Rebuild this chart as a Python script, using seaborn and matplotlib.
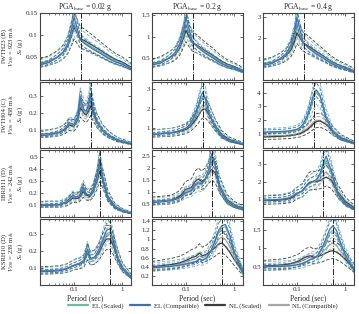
import numpy as np
import pandas as pd
import matplotlib
matplotlib.use("Agg")
import matplotlib.pyplot as plt
import seaborn as sns
from matplotlib.lines import Line2D
from matplotlib.ticker import FixedLocator, NullFormatter, LogLocator

sns.set_style("ticks")
plt.rcParams['font.family'] = ['Liberation Serif', 'DejaVu Serif']
plt.rcParams['mathtext.fontset'] = 'stix'

# ---------------- data ----------------
col_titles = [r"PGA$_{\rm base}$ = 0.02 g", r"PGA$_{\rm base}$ = 0.2 g", r"PGA$_{\rm base}$ = 0.4 g"]
row_labels = ["IWTH23 (B)\n$V_{S30}$ = 923 m/s\n$S_a$ (g)",
              "IWTH04 (C)\n$V_{S30}$ = 458 m/s\n$S_a$ (g)",
              "IBRH11 (D)\n$V_{S30}$ = 242 m/s\n$S_a$ (g)",
              "KSRH10 (D)\n$V_{S30}$ = 239 m/s\n$S_a$ (g)"]
site_period = [0.14, 0.23, 0.35, 0.55]
series_names = ["NL (Compatible)", "NL (Scaled)", "EL (Scaled)", "EL (Compatible)"]
legend_names = ["EL (Scaled)", "EL (Compatible)", "NL (Scaled)", "NL (Compatible)"]
series_colors = {"EL (Scaled)": "#66bba3", "EL (Compatible)": "#3d6fb3",
                 "NL (Scaled)": "#3c3c3c", "NL (Compatible)": "#a6a6a6"}
# log-standard deviation of each set (dashed = median x/÷ exp(sigma))
dispersion = {"EL (Scaled)": 0.24, "EL (Compatible)": 0.12,
              "NL (Scaled)": 0.26, "NL (Compatible)": 0.13}

t_row1 = [0.02, 0.03, 0.045, 0.06, 0.075, 0.09, 0.1, 0.115, 0.135, 0.17, 0.25, 0.35, 0.5, 0.7, 1.0, 1.5]
t_row2 = [0.02, 0.03, 0.05, 0.065, 0.08, 0.1, 0.12, 0.135, 0.16, 0.18, 0.2, 0.22, 0.25, 0.3, 0.4, 0.55, 0.8, 1.5]
t_row3 = [0.02, 0.03, 0.05, 0.07, 0.085, 0.095, 0.11, 0.13, 0.155, 0.18, 0.21, 0.25, 0.3, 0.34, 0.4, 0.5, 0.7, 1.0, 1.5]
t_row4 = [0.02, 0.03, 0.05, 0.07, 0.09, 0.11, 0.13, 0.16, 0.19, 0.22, 0.27, 0.33, 0.4, 0.47, 0.55, 0.65, 0.8, 1.0, 1.5]

# row 1
r1c1_els = [0.035, 0.040, 0.050, 0.060, 0.078, 0.105, 0.125, 0.108, 0.090, 0.083, 0.072, 0.063, 0.052, 0.043, 0.036, 0.026]
r1c1_elc = [0.033, 0.038, 0.050, 0.062, 0.082, 0.115, 0.140, 0.118, 0.090, 0.080, 0.068, 0.059, 0.048, 0.040, 0.034, 0.024]
r1c1_nls = [0.036, 0.041, 0.050, 0.060, 0.076, 0.100, 0.118, 0.106, 0.092, 0.087, 0.076, 0.066, 0.055, 0.046, 0.039, 0.028]
r1c1_nlc = [0.034, 0.039, 0.050, 0.061, 0.080, 0.108, 0.128, 0.110, 0.090, 0.082, 0.070, 0.061, 0.050, 0.041, 0.035, 0.025]
r1c2_els = [0.36, 0.40, 0.50, 0.60, 0.78, 1.05, 1.30, 1.08, 0.88, 0.78, 0.64, 0.54, 0.42, 0.34, 0.28, 0.20]
r1c2_elc = [0.34, 0.38, 0.50, 0.63, 0.84, 1.15, 1.45, 1.18, 0.90, 0.76, 0.61, 0.51, 0.39, 0.31, 0.26, 0.18]
r1c2_nls = [0.37, 0.41, 0.50, 0.58, 0.74, 0.98, 1.15, 1.00, 0.86, 0.80, 0.67, 0.57, 0.45, 0.36, 0.30, 0.21]
r1c2_nlc = [0.35, 0.39, 0.50, 0.61, 0.78, 1.05, 1.25, 1.06, 0.87, 0.78, 0.63, 0.53, 0.41, 0.32, 0.27, 0.19]
r1c3_els = [0.72, 0.80, 1.00, 1.20, 1.55, 2.10, 2.60, 2.15, 1.75, 1.55, 1.28, 1.08, 0.84, 0.67, 0.55, 0.40]
r1c3_elc = [0.68, 0.76, 1.00, 1.25, 1.65, 2.30, 3.00, 2.40, 1.80, 1.52, 1.22, 1.02, 0.78, 0.62, 0.52, 0.37]
r1c3_nls = [0.75, 0.82, 0.98, 1.15, 1.42, 1.85, 2.25, 2.00, 1.75, 1.62, 1.35, 1.13, 0.88, 0.71, 0.58, 0.42]
r1c3_nlc = [0.70, 0.78, 0.98, 1.18, 1.50, 2.00, 2.45, 2.10, 1.75, 1.58, 1.30, 1.08, 0.84, 0.66, 0.55, 0.39]
# row 2
r2c1_els = [0.075, 0.078, 0.090, 0.110, 0.140, 0.130, 0.170, 0.270, 0.220, 0.210, 0.240, 0.290, 0.220, 0.150, 0.100, 0.070, 0.045, 0.025]
r2c1_elc = [0.070, 0.074, 0.088, 0.110, 0.145, 0.135, 0.180, 0.290, 0.220, 0.210, 0.250, 0.310, 0.220, 0.145, 0.095, 0.065, 0.042, 0.023]
r2c1_nls = [0.078, 0.080, 0.090, 0.105, 0.130, 0.125, 0.160, 0.230, 0.200, 0.190, 0.210, 0.240, 0.200, 0.150, 0.100, 0.070, 0.046, 0.026]
r2c1_nlc = [0.072, 0.076, 0.088, 0.108, 0.135, 0.130, 0.165, 0.250, 0.210, 0.200, 0.220, 0.260, 0.210, 0.148, 0.097, 0.067, 0.044, 0.024]
r2c2_els = [0.72, 0.75, 0.80, 0.85, 0.92, 1.00, 1.15, 1.35, 1.70, 2.05, 2.40, 2.65, 2.50, 1.80, 1.10, 0.62, 0.38, 0.20]
r2c2_elc = [0.68, 0.72, 0.78, 0.84, 0.92, 1.02, 1.20, 1.42, 1.80, 2.20, 2.60, 2.85, 2.55, 1.75, 1.05, 0.58, 0.35, 0.18]
r2c2_nls = [0.72, 0.74, 0.78, 0.82, 0.88, 0.95, 1.08, 1.22, 1.45, 1.65, 1.85, 1.98, 2.00, 1.70, 1.15, 0.68, 0.42, 0.22]
r2c2_nlc = [0.70, 0.73, 0.78, 0.83, 0.90, 0.98, 1.12, 1.30, 1.55, 1.80, 2.05, 2.20, 2.15, 1.72, 1.10, 0.64, 0.40, 0.20]
r2c3_els = [1.10, 1.12, 1.15, 1.18, 1.22, 1.30, 1.45, 1.65, 2.10, 2.60, 3.10, 3.60, 4.00, 3.70, 2.20, 1.20, 0.70, 0.35]
r2c3_elc = [1.15, 1.17, 1.20, 1.23, 1.28, 1.35, 1.52, 1.75, 2.25, 2.80, 3.35, 3.85, 4.20, 3.80, 2.15, 1.15, 0.66, 0.33]
r2c3_nls = [0.80, 0.82, 0.85, 0.88, 0.92, 0.98, 1.05, 1.15, 1.30, 1.45, 1.60, 1.75, 1.90, 1.95, 1.70, 1.20, 0.75, 0.38]
r2c3_nlc = [0.85, 0.87, 0.90, 0.93, 0.97, 1.03, 1.12, 1.22, 1.40, 1.55, 1.72, 1.88, 2.00, 2.00, 1.72, 1.18, 0.72, 0.36]
# row 3
r3c1_els = [0.095, 0.097, 0.100, 0.120, 0.150, 0.170, 0.160, 0.170, 0.240, 0.190, 0.180, 0.220, 0.320, 0.440, 0.300, 0.160, 0.080, 0.050, 0.030]
r3c1_elc = [0.090, 0.093, 0.100, 0.125, 0.160, 0.180, 0.165, 0.175, 0.250, 0.190, 0.180, 0.230, 0.350, 0.480, 0.300, 0.150, 0.075, 0.045, 0.027]
r3c1_nls = [0.098, 0.100, 0.100, 0.115, 0.140, 0.155, 0.150, 0.160, 0.210, 0.180, 0.170, 0.210, 0.300, 0.380, 0.300, 0.170, 0.085, 0.050, 0.030]
r3c1_nlc = [0.093, 0.095, 0.100, 0.120, 0.145, 0.165, 0.155, 0.165, 0.230, 0.185, 0.175, 0.220, 0.320, 0.420, 0.300, 0.160, 0.080, 0.048, 0.028]
r3c2_els = [0.60, 0.62, 0.66, 0.75, 0.85, 0.95, 1.00, 1.05, 1.25, 1.35, 1.30, 1.50, 1.90, 2.45, 2.10, 1.20, 0.65, 0.45, 0.32]
r3c2_elc = [0.58, 0.60, 0.65, 0.75, 0.86, 0.97, 1.02, 1.08, 1.30, 1.40, 1.35, 1.55, 2.00, 2.60, 2.15, 1.15, 0.62, 0.42, 0.30]
r3c2_nls = [0.62, 0.64, 0.68, 0.80, 0.95, 1.10, 1.15, 1.20, 1.45, 1.55, 1.45, 1.55, 1.80, 1.95, 1.80, 1.25, 0.70, 0.48, 0.34]
r3c2_nlc = [0.60, 0.62, 0.67, 0.78, 0.90, 1.02, 1.08, 1.12, 1.35, 1.45, 1.40, 1.55, 1.85, 2.15, 1.95, 1.20, 0.68, 0.46, 0.33]
r3c3_els = [0.95, 0.97, 1.00, 1.08, 1.20, 1.30, 1.35, 1.45, 1.70, 1.85, 1.95, 2.05, 2.35, 2.80, 3.20, 2.60, 1.30, 0.75, 0.45]
r3c3_elc = [0.92, 0.95, 0.98, 1.06, 1.20, 1.32, 1.38, 1.48, 1.75, 1.90, 2.00, 2.10, 2.45, 2.95, 3.45, 2.70, 1.25, 0.70, 0.42]
r3c3_nls = [0.90, 0.92, 0.95, 1.02, 1.12, 1.25, 1.35, 1.45, 1.75, 1.95, 2.00, 1.98, 2.05, 2.15, 2.25, 2.10, 1.40, 0.85, 0.50]
r3c3_nlc = [0.92, 0.94, 0.97, 1.04, 1.15, 1.28, 1.36, 1.45, 1.72, 1.90, 1.98, 2.00, 2.15, 2.35, 2.55, 2.25, 1.35, 0.80, 0.48]
# row 4
r4c1_els = [0.080, 0.082, 0.085, 0.095, 0.110, 0.120, 0.125, 0.140, 0.200, 0.150, 0.160, 0.200, 0.260, 0.300, 0.310, 0.250, 0.160, 0.100, 0.050]
r4c1_elc = [0.078, 0.080, 0.083, 0.095, 0.110, 0.120, 0.128, 0.145, 0.210, 0.155, 0.165, 0.210, 0.270, 0.320, 0.330, 0.260, 0.150, 0.095, 0.045]
r4c1_nls = [0.082, 0.084, 0.087, 0.095, 0.108, 0.118, 0.122, 0.135, 0.190, 0.150, 0.160, 0.190, 0.240, 0.270, 0.270, 0.230, 0.160, 0.100, 0.050]
r4c1_nlc = [0.080, 0.082, 0.085, 0.095, 0.110, 0.120, 0.125, 0.140, 0.200, 0.150, 0.162, 0.200, 0.250, 0.290, 0.300, 0.240, 0.155, 0.098, 0.048]
r4c2_els = [0.38, 0.40, 0.42, 0.44, 0.46, 0.48, 0.50, 0.52, 0.58, 0.55, 0.60, 0.75, 0.95, 1.15, 1.25, 1.28, 1.05, 0.70, 0.28]
r4c2_elc = [0.37, 0.39, 0.41, 0.43, 0.45, 0.47, 0.49, 0.51, 0.57, 0.54, 0.60, 0.76, 0.98, 1.20, 1.30, 1.33, 1.10, 0.72, 0.27]
r4c2_nls = [0.40, 0.42, 0.45, 0.48, 0.52, 0.56, 0.60, 0.63, 0.70, 0.64, 0.68, 0.75, 0.82, 0.90, 0.92, 0.85, 0.72, 0.55, 0.28]
r4c2_nlc = [0.39, 0.41, 0.44, 0.46, 0.49, 0.52, 0.55, 0.58, 0.64, 0.60, 0.64, 0.75, 0.88, 1.00, 1.05, 1.00, 0.85, 0.62, 0.28]
r4c3_els = [0.50, 0.51, 0.52, 0.53, 0.55, 0.57, 0.60, 0.65, 0.70, 0.72, 0.80, 0.98, 1.20, 1.42, 1.50, 1.40, 1.10, 0.80, 0.42]
r4c3_elc = [0.49, 0.50, 0.51, 0.52, 0.54, 0.56, 0.59, 0.64, 0.70, 0.72, 0.82, 1.02, 1.28, 1.52, 1.62, 1.50, 1.15, 0.82, 0.40]
r4c3_nls = [0.52, 0.53, 0.55, 0.58, 0.62, 0.66, 0.72, 0.78, 0.80, 0.76, 0.78, 0.82, 0.88, 0.92, 0.94, 0.90, 0.82, 0.70, 0.45]
r4c3_nlc = [0.51, 0.52, 0.54, 0.56, 0.59, 0.62, 0.67, 0.72, 0.76, 0.74, 0.78, 0.88, 1.00, 1.10, 1.15, 1.08, 0.92, 0.75, 0.43]

y_limits = [[(0, 0.15), (0, 1.55), (0, 3.2)],
            [(0, 0.38), (0, 3.4), (0, 4.8)],
            [(0, 0.56), (0, 2.75), (0, 3.8)],
            [(0, 0.39), (0, 1.46), (0, 1.82)]]
y_ticks = [[[0.05, 0.1, 0.15], [0.5, 1, 1.5], [1, 2, 3]],
           [[0.1, 0.2, 0.3], [1, 2, 3], [1, 2, 3, 4]],
           [[0.1, 0.2, 0.3, 0.4, 0.5], [0.5, 1, 1.5, 2, 2.5], [1, 2, 3]],
           [[0.1, 0.2, 0.3], [0.2, 0.4, 0.6, 0.8, 1, 1.2, 1.4], [0.5, 1, 1.5]]]

periods = [t_row1, t_row2, t_row3, t_row4]
panels = {
    (0, 0): (r1c1_els, r1c1_elc, r1c1_nls, r1c1_nlc), (0, 1): (r1c2_els, r1c2_elc, r1c2_nls, r1c2_nlc),
    (0, 2): (r1c3_els, r1c3_elc, r1c3_nls, r1c3_nlc),
    (1, 0): (r2c1_els, r2c1_elc, r2c1_nls, r2c1_nlc), (1, 1): (r2c2_els, r2c2_elc, r2c2_nls, r2c2_nlc),
    (1, 2): (r2c3_els, r2c3_elc, r2c3_nls, r2c3_nlc),
    (2, 0): (r3c1_els, r3c1_elc, r3c1_nls, r3c1_nlc), (2, 1): (r3c2_els, r3c2_elc, r3c2_nls, r3c2_nlc),
    (2, 2): (r3c3_els, r3c3_elc, r3c3_nls, r3c3_nlc),
    (3, 0): (r4c1_els, r4c1_elc, r4c1_nls, r4c1_nlc), (3, 1): (r4c2_els, r4c2_elc, r4c2_nls, r4c2_nlc),
    (3, 2): (r4c3_els, r4c3_elc, r4c3_nls, r4c3_nlc),
}

# ---------------- figure ----------------
W, H = 359, 314
fig = plt.figure(figsize=(W / 100, H / 100), dpi=100)
col_left = [40, 152, 263]
col_w = 91
row_top = [13, 81.5, 150, 218.5]
row_h = 66.5

for r in range(4):
    for c in range(3):
        ax = fig.add_axes([col_left[c] / W, 1 - (row_top[r] + row_h) / H, col_w / W, row_h / H])
        els, elc, nls, nlc = panels[(r, c)]
        vals = {"EL (Scaled)": els, "EL (Compatible)": elc, "NL (Scaled)": nls, "NL (Compatible)": nlc}
        T = np.array(periods[r])
        for name in series_names:
            med = np.array(vals[name])
            s = dispersion[name]
            col = series_colors[name]
            for k in (+1, -1):
                sns.lineplot(x=T, y=med * np.exp(k * s), ax=ax, color=col, lw=0.6,
                             linestyle=(0, (4, 2)), estimator=None)
            sns.lineplot(x=T, y=med, ax=ax, color=col, lw=0.9, estimator=None)
        ax.axvline(site_period[r], color="#222222", ls="-.", lw=0.7)
        ax.set_xscale("log")
        ax.set_xlim(0.02, 1.5)
        ax.set_ylim(*y_limits[r][c])
        ax.xaxis.set_major_locator(FixedLocator([0.1, 1]))
        ax.xaxis.set_minor_locator(LogLocator(base=10, subs=np.arange(2, 10)))
        ax.xaxis.set_minor_formatter(NullFormatter())
        if r == 3:
            ax.set_xticklabels(["0.1", "1"])
            ax.set_xlabel("Period (sec)", fontsize=5.5, labelpad=1.5)
        else:
            ax.set_xticklabels([])
            ax.set_xlabel("")
        ax.set_yticks(y_ticks[r][c])
        ax.set_yticklabels(["%g" % v for v in y_ticks[r][c]])
        if c == 0:
            ax.set_ylabel(row_labels[r], fontsize=4.8, linespacing=0.95)
            ax.yaxis.set_label_coords(-0.165, 0.5)
        else:
            ax.set_ylabel("")
        if r == 0:
            ax.set_title(col_titles[c], fontsize=5.5, pad=3)
        ax.tick_params(which="major", direction="in", length=2.2, width=0.5, labelsize=5, pad=1.5,
                       top=True, right=True)
        ax.tick_params(which="minor", direction="in", length=1.2, width=0.4, top=True)
        for sp in ax.spines.values():
            sp.set_linewidth(0.8)
            sp.set_color("#444444")

handles = [Line2D([], [], color=series_colors[n], lw=1.6) for n in legend_names]
fig.legend(handles, legend_names,
           loc="center", bbox_to_anchor=(203 / W, 1 - 306 / H), ncol=4, frameon=False,
           fontsize=4.8, handlelength=3.0, columnspacing=1.0, handletextpad=0.6)

fig.savefig("out.png", dpi=100)
